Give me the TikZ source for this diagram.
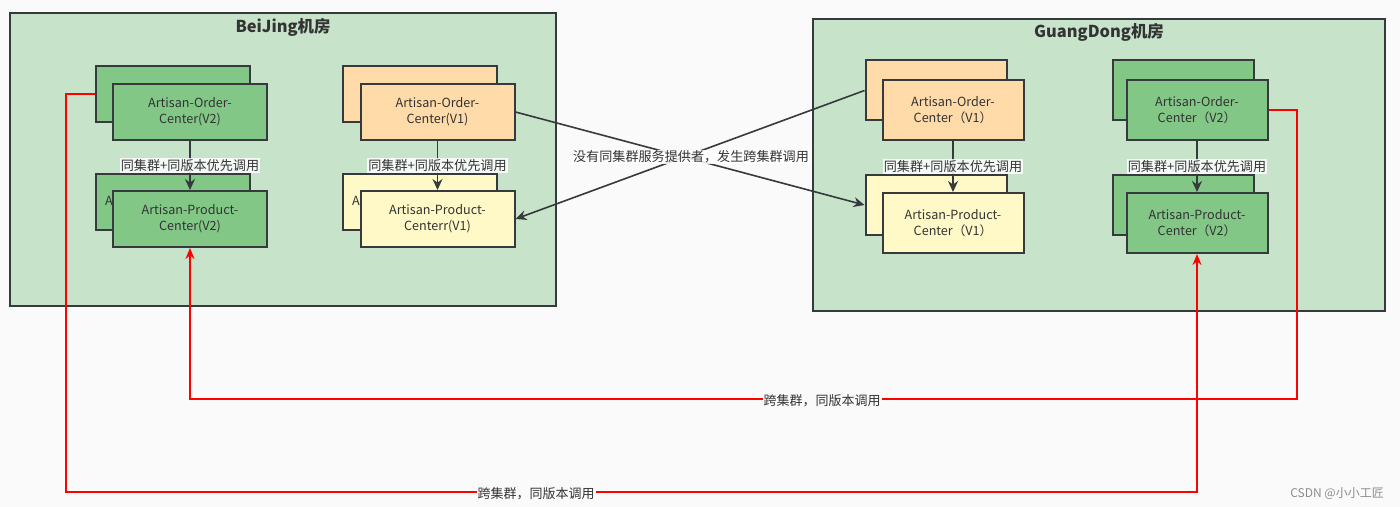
\documentclass[tikz,border=0pt]{standalone}
\usepackage{fontspec}
\setmainfont{Noto Sans CJK SC}
\usetikzlibrary{arrows.meta}
\definecolor{bgc}{RGB}{250,250,250}
\definecolor{roomc}{RGB}{199,228,202}
\definecolor{greenc}{RGB}{130,199,134}
\definecolor{orangec}{RGB}{255,219,169}
\definecolor{yellowc}{RGB}{255,249,199}
\definecolor{bordc}{RGB}{54,57,61}
\definecolor{txtc}{RGB}{51,51,51}
\definecolor{redc}{RGB}{255,0,0}
\tikzset{
  room/.style={draw=bordc,line width=1pt,fill=roomc},
  svc/.style={draw=bordc,line width=1pt,align=center,text=txtc,
    font=\fontsize{6.3}{7.9}\selectfont,inner sep=0pt},
  bjsize/.style={minimum width=77pt,minimum height=28pt},
  gdsize/.style={minimum width=70.5pt,minimum height=30pt},
  backtxt/.style={text width=68pt,align=left},
  gsvc/.style={svc,fill=greenc},
  osvc/.style={svc,fill=orangec},
  ysvc/.style={svc,fill=yellowc},
  call/.style={draw=bordc,line width=0.8pt,-{Stealth[length=5.5pt,width=5pt]}},
  redcall/.style={draw=redc,line width=1pt,-{Stealth[length=5.5pt,width=4.5pt]}},
  lbl/.style={fill=white,fill opacity=0.85,text opacity=1,text=txtc,inner sep=0.5pt,
    font=\fontsize{6.55}{7.5}\selectfont},
  rlbl/.style={fill=bgc,text=txtc,inner sep=0.5pt,font=\fontsize{6.5}{7.5}\selectfont},
  ttl/.style={text=txtc,font=\fontsize{8.2}{9}\selectfont\bfseries}
}
\begin{document}
\begin{tikzpicture}[x=0.5pt,y=-0.5pt]
\useasboundingbox[fill=bgc] (0,0) rectangle (1400,507);
% rooms
\draw[room] (10,13) rectangle (556,306);
\draw[room] (813,19) rectangle (1385,311);
\node[ttl] (bjt) at (283,27) {BeiJing机房};
\node[ttl] (gdt) at (1099,32) {GuangDong机房};
% BeiJing V2
\node[gsvc,bjsize] (bjO2b) at (173,94) {};
\node[gsvc,bjsize] (bjO2) at (190,112) {Artisan-Order-\\Center(V2)};
\node[gsvc,bjsize,backtxt] (bjP2b) at (173,202) {\rlap{Artisan-Product-Center(V2)}};
\node[gsvc,bjsize] (bjP2) at (190,219) {Artisan-Product-\\Center(V2)};
% BeiJing V1
\node[osvc,bjsize] (bjO1b) at (420,94) {};
\node[osvc,bjsize] (bjO1) at (437.5,112) {Artisan-Order-\\Center(V1)};
\node[ysvc,bjsize,backtxt] (bjP1b) at (420,202) {\rlap{Artisan-Product-Centerr(V1)}};
\node[ysvc,bjsize] (bjP1) at (437.5,219) {Artisan-Product-\\Centerr(V1)};
% GuangDong V1
\node[osvc,gdsize] (gdO1b) at (936,90.5) {};
\node[osvc,gdsize] (gdO1) at (953,110) {Artisan-Order-\\Center（V1）};
\node[ysvc,gdsize] (gdP1b) at (936,205) {};
\node[ysvc,gdsize] (gdP1) at (953,223) {Artisan-Product-\\Center（V1）};
% GuangDong V2
\node[gsvc,gdsize] (gdO2b) at (1183,90.5) {};
\node[gsvc,gdsize] (gdO2) at (1197,110) {Artisan-Order-\\Center（V2）};
\node[gsvc,gdsize] (gdP2b) at (1183,205) {};
\node[gsvc,gdsize] (gdP2) at (1197,223) {Artisan-Product-\\Center（V2）};
% same-cluster calls
\draw[call] (bjO2) -- node[lbl,pos=0.5] {同集群+同版本优先调用} (bjP2);
\draw[call] (bjO1) -- node[lbl,pos=0.5] {同集群+同版本优先调用} (bjP1);
\draw[call] (gdO1) -- node[lbl,pos=0.5] {同集群+同版本优先调用} (gdP1);
\draw[call] (gdO2) -- node[lbl,pos=0.5] {同集群+同版本优先调用} (gdP2);
% cross-cluster calls
\draw[call] (bjO1.east) -- (gdP1b.west);
\draw[call] (gdO1b.west) -- (bjP1.east);
\node[lbl] (xl) at (691,157) {没有同集群服务提供者，发生跨集群调用};
% red cross-room calls
\coordinate (r1) at (66,492);
\coordinate (r2) at (1297,399);
\draw[redcall] (bjO2b.west) -| (r1) -| (gdP2.south);
\draw[redcall] (gdO2.east) -| (r2) -| (bjP2.south);
\node[rlbl] (rl1) at (536,494) {跨集群，同版本调用};
\node[rlbl] (rl2) at (822,401) {跨集群，同版本调用};
\node[text=black!45,font=\fontsize{6}{7}\selectfont] (wm) at (1337,494) {CSDN @小小工匠};
\end{tikzpicture}
\end{document}
